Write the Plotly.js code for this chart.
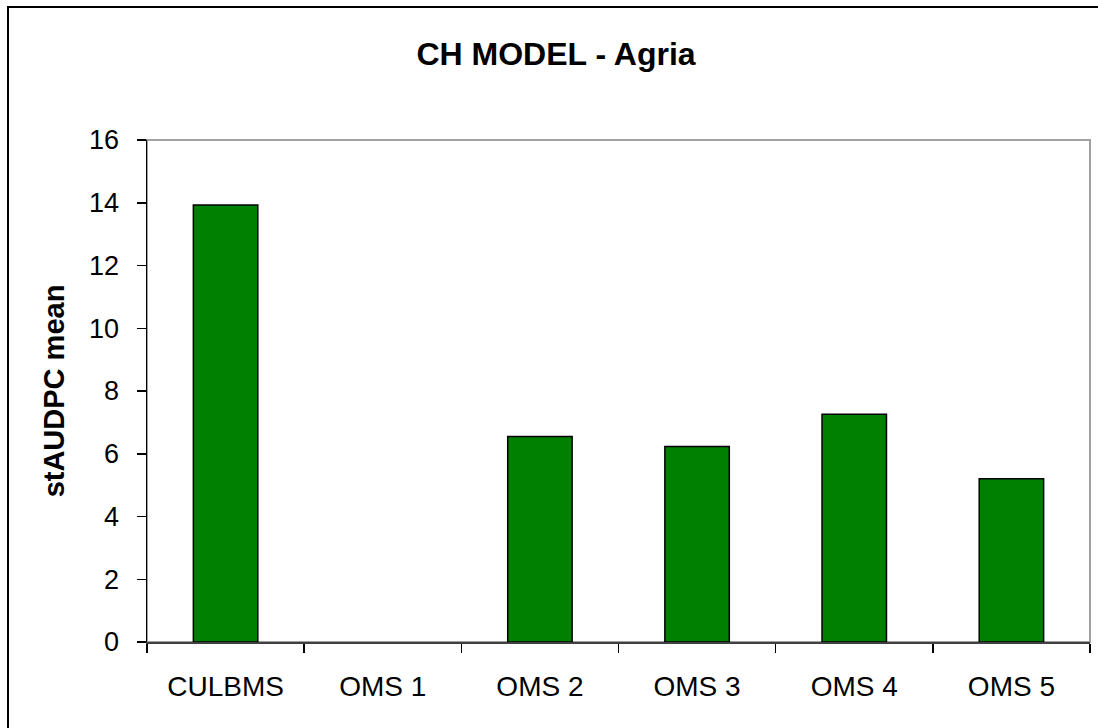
<!DOCTYPE html>
<html>
<head>
<meta charset="utf-8">
<script src="https://cdn.plot.ly/plotly-3.0.1.min.js"></script>
<style>
  html, body { margin: 0; padding: 0; background: #fff; }
  #wrap { position: relative; width: 1098px; height: 728px; overflow: hidden; }
  #chart { width: 1098px; height: 728px; }
  #frame { position: absolute; left: 7px; top: 6px; width: 1200px; height: 900px;
           border-left: 2px solid #000; border-top: 2px solid #000; pointer-events: none; }
</style>
</head>
<body>
<div id="wrap">
  <div id="chart"></div>
  <div id="frame"></div>
</div>
<script>
const categories = ["CULBMS", "OMS 1", "OMS 2", "OMS 3", "OMS 4", "OMS 5"];
const values = [13.93, 0, 6.55, 6.23, 7.26, 5.2];
const yTicks = [0, 2, 4, 6, 8, 10, 12, 14, 16];

const FONT = "Liberation Sans, Arial, sans-serif";

const trace = {
  type: "bar",
  x: categories,
  y: values,
  marker: {
    color: "rgb(0,128,0)",
    line: { color: "#000", width: values.map(v => (v === 0 ? 0 : 1.5)) }
  },
  hoverinfo: "x+y"
};

const layout = {
  width: 1098, height: 728,
  paper_bgcolor: "rgba(0,0,0,0)",
  plot_bgcolor: "#fff",
  margin: { l: 147, r: 8, t: 140, b: 86 },
  bargap: 0.59,
  showlegend: false,
  title: {
    text: "<b>CH MODEL - Agria</b>",
    font: { family: FONT, size: 32, color: "#000" },
    x: 556 / 1098, xref: "container", xanchor: "center",
    y: 1 - 54 / 728, yref: "container", yanchor: "middle"
  },
  xaxis: {
    type: "category",
    tickson: "boundaries",
    ticks: "outside", ticklen: 9, tickwidth: 1.5, tickcolor: "#000",
    showline: true, linecolor: "#404040", linewidth: 2,
    showgrid: false, zeroline: false,
    tickfont: { family: FONT, size: 28, color: "#000" },
    ticklabelstandoff: 18
  },
  yaxis: {
    range: [0, 16],
    tickvals: yTicks,
    ticktext: yTicks.map(String),
    ticks: "outside", ticklen: 9, tickwidth: 1.5, tickcolor: "#000",
    showline: true, linecolor: "#000", linewidth: 1.5,
    showgrid: false, zeroline: false,
    tickfont: { family: FONT, size: 27, color: "#000" },
    ticklabelstandoff: 12,
    title: {
      text: "<b>stAUDPC mean</b>",
      font: { family: FONT, size: 29, color: "#000" },
      standoff: 16
    }
  },
  shapes: [
    { type: "rect", xref: "paper", yref: "paper", x0: 0, x1: 1, y0: 0, y1: 1,
      line: { color: "#a0a0a0", width: 2 }, layer: "below" }
  ]
};

Plotly.newPlot("chart", [trace], layout, { displayModeBar: false, staticPlot: true });
</script>
</body>
</html>
